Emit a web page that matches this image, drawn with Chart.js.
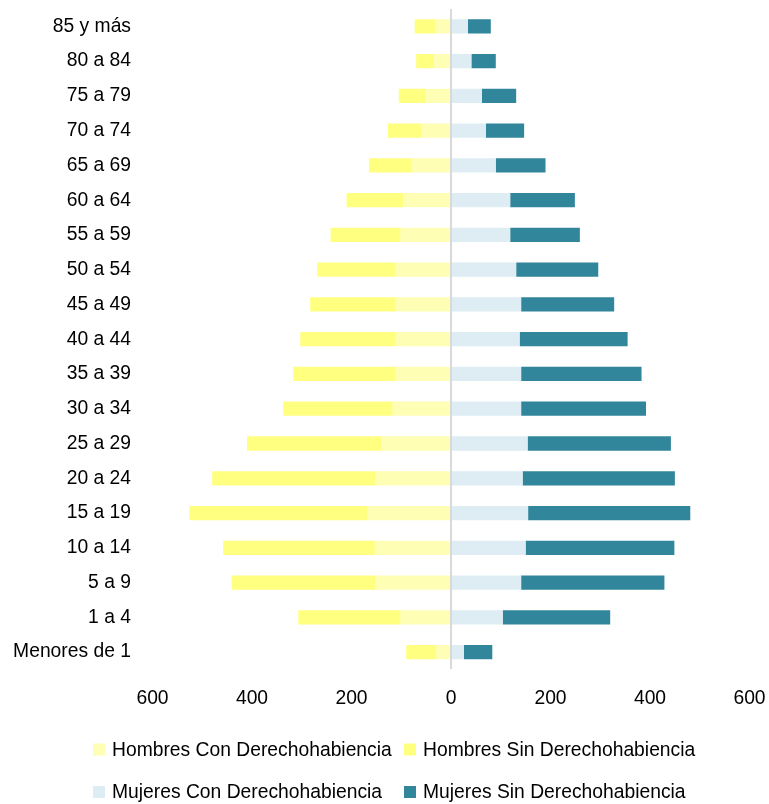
<!DOCTYPE html>
<html>
<head>
<meta charset="utf-8">
<script src="https://cdn.jsdelivr.net/npm/chart.js@4"></script>
<style>
html,body{margin:0;padding:0;background:#fff;}
#wrap{width:769px;height:804px;}
</style>
</head>
<body>
<div id="wrap"><canvas id="c" width="769" height="804"></canvas></div>
<script>
const categories = ['85 y más','80 a 84','75 a 79','70 a 74','65 a 69','60 a 64','55 a 59','50 a 54','45 a 49','40 a 44','35 a 39','30 a 34','25 a 29','20 a 24','15 a 19','10 a 14','5 a 9','1 a 4','Menores de 1'];
const hombresCon = [32,34,50,60,79,96,101,111,111,111,111,117,140,152,168,153,152,101,29];
const hombresSin = [41,36,55,67,86,114,141,158,172,192,206,220,270,328,358,305,289,206,61];
const mujeresCon = [34,41,62,70,90,119,119,131,141,138,141,141,154,144,155,150,141,104,26];
const mujeresSin = [46,49,69,77,100,130,140,165,187,217,242,251,288,306,326,299,288,216,57];
const seriesNames = ['Hombres Con Derechohabiencia','Hombres Sin Derechohabiencia','Mujeres Con Derechohabiencia','Mujeres Sin Derechohabiencia'];
const xTicks = [-600,-400,-200,0,200,400,600];

const colors = ['#FEFEB4','#FFFF80','#DDEDF3','#31869B'];
const FONT = "'Liberation Sans', Arial, sans-serif";
const FS = 19.3;

const neg = a => a.map(v => -v);
const datasets = [
  {label: seriesNames[0], data: neg(hombresCon), backgroundColor: colors[0]},
  {label: seriesNames[1], data: neg(hombresSin), backgroundColor: colors[1]},
  {label: seriesNames[2], data: mujeresCon, backgroundColor: colors[2]},
  {label: seriesNames[3], data: mujeresSin, backgroundColor: colors[3]}
].map(d => Object.assign(d, {stack: 's', borderWidth: 0, barPercentage: 1, categoryPercentage: 0.41}));

const legendPlugin = {
  id: 'colLegend',
  afterDraw(chart) {
    const ctx = chart.ctx;
    const cols = [93, 404];
    const rows = [749.5, 792];
    ctx.save();
    ctx.font = FS + 'px ' + FONT;
    ctx.textBaseline = 'middle';
    ctx.textAlign = 'left';
    chart.data.datasets.forEach((ds, i) => {
      const x = cols[i % 2], y = rows[Math.floor(i / 2)];
      ctx.fillStyle = ds.backgroundColor;
      ctx.fillRect(x, y - 6, 12, 12);
      ctx.fillStyle = '#000';
      ctx.fillText(ds.label, x + 19, y + 1);
    });
    ctx.restore();
  }
};

new Chart(document.getElementById('c'), {
  type: 'bar',
  data: {labels: categories, datasets: datasets},
  options: {
    indexAxis: 'y',
    responsive: false,
    devicePixelRatio: 1,
    animation: false,
    layout: {padding: {top: 9, right: 19.5, bottom: 76.6, left: 0}},
    plugins: {legend: {display: false}, tooltip: {enabled: false}},
    scales: {
      x: {
        type: 'linear',
        stacked: true,
        z: 1,
        min: -600, max: 600,
        afterBuildTicks: s => { s.ticks = xTicks.map(v => ({value: v})); },
        afterFit: s => { s.paddingLeft = 0; s.paddingRight = 0; },
        ticks: {
          color: '#000',
          font: {family: FONT, size: FS},
          padding: 17.4,
          maxRotation: 0,
          callback: v => String(Math.abs(v))
        },
        grid: {
          drawTicks: false,
          color: c => (c.tick && c.tick.value === 0) ? '#d9d9d9' : 'rgba(0,0,0,0)',
          lineWidth: 2
        },
        border: {display: false}
      },
      y: {
        stacked: true,
        afterFit: s => { s.width = 152.5; s.paddingTop = 0; s.paddingBottom = 0; },
        ticks: {
          color: '#000',
          font: {family: FONT, size: FS},
          padding: 21.5,
          autoSkip: false
        },
        grid: {display: false, drawTicks: false},
        border: {display: false}
      }
    }
  },
  plugins: [legendPlugin]
});
</script>
</body>
</html>
